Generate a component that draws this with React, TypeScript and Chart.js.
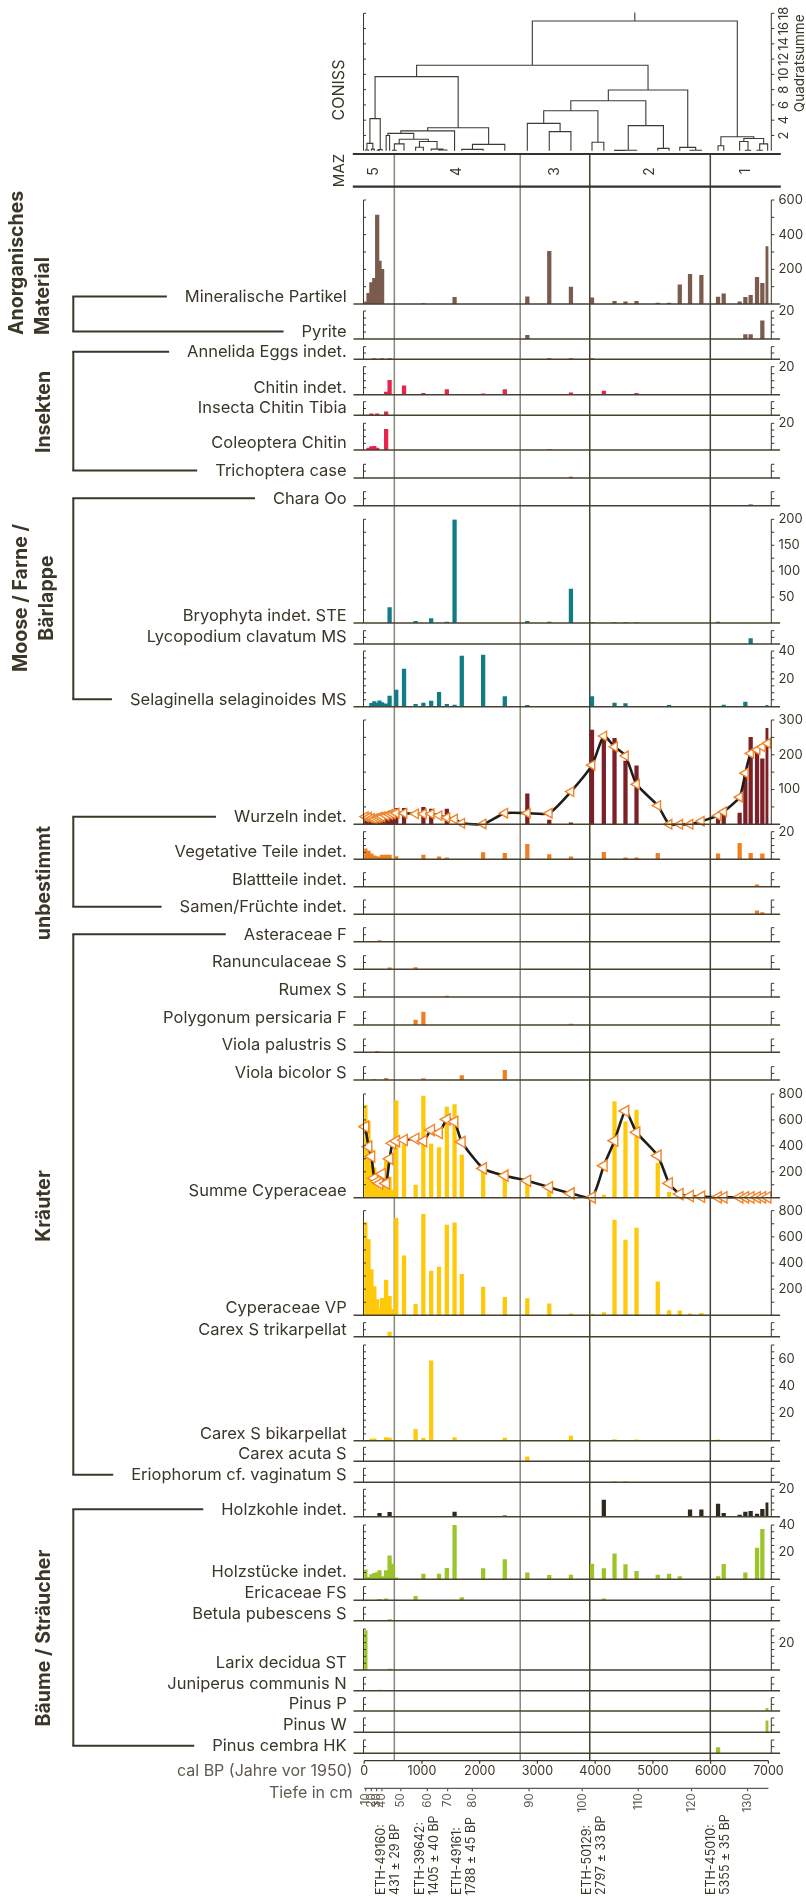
import React, { useEffect, useRef } from 'react';
import { Chart, registerables } from 'chart.js';

Chart.register(...registerables);

// ---------------- data (ages in cal BP) ----------------
const calBpTicks = [0, 1000, 2000, 3000, 4000, 5000, 6000, 7000];
const depthTicks = [10, 20, 30, 40, 50, 60, 70, 80, 90, 100, 110, 120, 130];
const depthTickAges = [26, 123, 215, 307, 634, 1094, 1444, 1873, 2855, 3776, 4747, 5668, 6639];
const zoneBounds = [522, 2702, 3906, 5994];
const zoneNames = ['5', '4', '3', '2', '1'];
const datingCodes = ['ETH-49160:', 'ETH-39642:', 'ETH-49161:', 'ETH-50129:', 'ETH-45010:'];
const datingResults = ['431 ± 29 BP', '1405 ± 40 BP', '1788 ± 45 BP', '2797 ± 33 BP', '5355 ± 35 BP'];
const datingAges = [294, 970, 1614, 3857, 6006];
const conissTicks = [2, 4, 6, 8, 10, 12, 14, 16, 18];
const conissStemTop = 18.1;
// CONISS tree: [height, left, right]; leaves are sample ages
const conissTree: any = [17.0,
  [11.2,
    [9.7,
      [4.2, [0.96, [0.1, 20, 75], [0.2, 125, 175]], [0.15, [0.05, 225, 265], 310]],
      [3.0,
        [2.6,
          [2.27,
            [2.0, 380, 440],
            [1.5, [0.9, [0.05, 490, 555], 690], [1.2, [0.45, 890, 1025], [0.2, 1160, [0.1, 1296, 1431]]]]
          ],
          1565
        ],
        [0.83, [0.17, 1690, 2060], 2435]
      ]
    ],
    [7.95,
      [6.55,
        [5.24, [3.58, 2825, [2.5, 3205, 3580]], [1.1, 3945, 4150]],
        [3.28, [0.05, [0.04, 4335, 4525], 4716], [0.3, 5084, 5280]]
      ],
      [0.44, 5465, [0.05, 5643, 5839]]
    ]
  ],
  [1.83,
    [0.65, 6128, 6226],
    [1.6, [1.2, 6502, [0.05, 6601, 6693]], [0.9, [0.05, 6803, 6895], 6987]]
  ]
];

const mineralischePartikel = [[20, 13], [75, 62], [125, 123], [175, 148], [225, 513], [265, 248], [310, 200], [1025, 2], [1565, 38], [2825, 42], [3205, 304], [3580, 98], [3945, 35], [4335, 15], [4525, 12], [4716, 15], [5084, 6], [5280, 6], [5465, 110], [5643, 171], [5839, 165], [6128, 40], [6226, 58], [6502, 12], [6601, 38], [6693, 50], [6803, 154], [6895, 119], [6987, 331]];
const pyrite = [[2825, 2.6], [6601, 3.1], [6693, 3.1], [6895, 12.9]];
const annelidaEggs = [[175, 0.25], [310, 0.25], [440, 0.25], [3205, 0.2], [3580, 0.2], [3945, 0.2]];
const chitinIndet = [[380, 1.9], [440, 10.2], [690, 6.4], [1025, 1], [1431, 3.6], [2060, 0.7], [2435, 3.6], [3580, 1.4], [4150, 2.6], [4716, 1]];
const insectaChitinTibia = [[125, 0.4], [225, 0.4], [380, 1]];
const coleopteraChitin = [[75, 1.5], [125, 2.5], [175, 2.8], [225, 1.5], [380, 15.5], [3205, 0.3]];
const trichopteraCase = [[3580, 0.3]];
const charaOo = [[6693, 0.4]];
const bryophytaSte = [[440, 29.6], [890, 3.2], [1160, 8.4], [1431, 2], [1565, 199], [2825, 3.2], [3205, 2], [3580, 65.6], [3945, 0.6], [4335, 0.6], [4525, 0.6], [4716, 0.6], [6128, 2]];
const lycopodiumMs = [[6693, 1.6]];
const selaginellaMs = [[125, 2.4], [175, 3.6], [225, 2.4], [265, 4.3], [310, 3], [380, 2], [440, 7.7], [555, 12], [690, 27], [890, 1.7], [1025, 2.6], [1160, 4], [1296, 10.3], [1431, 1.7], [1565, 1.2], [1690, 36.4], [2060, 37], [2435, 7.2], [2825, 1], [3945, 7.2], [4335, 2.6], [4525, 2.2], [5280, 1], [6226, 1.2], [6601, 3.4], [6987, 1]];
const wurzelnBars = [[20, 18], [75, 16], [125, 14], [175, 15], [225, 18], [265, 17], [310, 20], [380, 24], [440, 28], [490, 22], [555, 46], [690, 46], [1025, 49], [1160, 44], [1431, 44], [2825, 88], [3205, 12], [3580, 4], [3945, 271], [4150, 247], [4335, 247], [4525, 182], [4716, 168], [6128, 22], [6226, 32], [6502, 32], [6601, 145], [6693, 250], [6803, 214], [6895, 188], [6987, 276]];
const wurzelnCurve = [[20, 22], [75, 20], [125, 17], [175, 16], [225, 18], [265, 20], [310, 22], [380, 25], [440, 28], [490, 30], [555, 32], [690, 32], [890, 30], [1025, 30], [1160, 30], [1296, 25], [1431, 19], [1565, 15], [1690, 3], [2060, 1], [2435, 32], [2825, 32], [3205, 32], [3580, 94], [3945, 170], [4150, 254], [4335, 223], [4525, 197], [4716, 115], [5084, 54], [5280, 0], [5465, 0], [5643, 0], [5839, 9], [6128, 25], [6226, 36], [6502, 78], [6601, 147], [6693, 204], [6803, 214], [6895, 223], [6987, 233]];
const vegetativeTeile = [[20, 7.5], [75, 6], [125, 4], [175, 2.5], [225, 2], [265, 1.5], [310, 3], [380, 3], [440, 3], [555, 2], [1025, 3.1], [1296, 1.7], [1431, 1], [2060, 4.8], [2435, 4.3], [2825, 10.8], [3205, 3.4], [3580, 1.7], [4150, 5], [4525, 1], [4716, 1], [5084, 4.3], [6128, 3.9], [6502, 11.6], [6693, 4.3], [6895, 3.9]];
const blattteile = [[6803, 0.5]];
const samenFruechte = [[6803, 1], [6895, 0.5]];
const asteraceaeF = [[265, 0.3]];
const ranunculaceaeS = [[440, 0.4], [890, 0.5]];
const rumexS = [[1431, 0.3]];
const polygonumF = [[890, 1.5], [1025, 4], [3580, 0.3]];
const violaPalustrisS = [[225, 0.3]];
const violaBicolorS = [[175, 0.2], [380, 0.5], [1025, 0.4], [1690, 1.3], [2435, 2.9]];
const summeCyperaceae = [[20, 712], [75, 590], [125, 370], [175, 230], [225, 125], [265, 60], [310, 140], [380, 285], [440, 160], [490, 60], [555, 748], [690, 410], [890, 98], [1025, 784], [1160, 414], [1296, 386], [1431, 700], [1565, 718], [1690, 329], [2060, 213], [2435, 149], [2825, 111], [3205, 46], [3580, 21], [3945, 8], [4150, 20], [4335, 741], [4525, 586], [4716, 676], [5084, 265], [5280, 41], [5465, 21], [5643, 13], [5839, 8]];
const summeCyperaceaeCurve = [[20, 548], [75, 394], [125, 318], [175, 150], [225, 125], [265, 110], [310, 183], [380, 110], [440, 300], [490, 420], [555, 437], [690, 445], [890, 455], [1025, 437], [1160, 522], [1296, 500], [1431, 604], [1565, 586], [1690, 430], [2060, 226], [2435, 170], [2825, 130], [3205, 80], [3580, 33], [3945, 3], [4150, 247], [4335, 440], [4525, 669], [4716, 504], [5084, 324], [5280, 111], [5465, 28], [5643, 13], [5839, 8], [6128, 3], [6226, 3], [6502, 3], [6601, 3], [6693, 3], [6803, 3], [6895, 3], [6987, 3]];
const cyperaceaeVp = [[20, 710], [75, 580], [125, 350], [175, 220], [225, 120], [265, 50], [310, 130], [380, 270], [440, 145], [490, 45], [555, 741], [690, 455], [890, 84], [1025, 772], [1160, 338], [1296, 368], [1431, 690], [1565, 708], [1690, 313], [2060, 216], [2435, 137], [2825, 127], [3205, 87], [3580, 12], [3945, 10], [4150, 20], [4335, 729], [4525, 576], [4716, 668], [5084, 256], [5280, 37], [5465, 35], [5643, 12], [5839, 15]];
const carexTrikarpellat = [[440, 1.3]];
const carexBikarpellat = [[125, 1.1], [175, 1.4], [380, 2.3], [440, 2], [890, 8.4], [1025, 1.8], [1160, 58.4], [1565, 2.3], [2435, 2], [3580, 3.4], [4335, 0.9], [4716, 0.7], [6128, 0.7]];
const carexAcutaS = [[2825, 1.3]];
const eriophorumS = [[4335, 0.2], [4525, 0.2]];
const holzkohle = [[265, 2.4], [440, 3.2], [1565, 3.4], [2435, 0.7], [4150, 12.2], [5643, 5.1], [5839, 5.1], [6128, 9.3], [6226, 2.4], [6502, 1.2], [6601, 3.4], [6693, 3.9], [6803, 2], [6895, 5.4], [6987, 10.2]];
const holzstuecke = [[20, 6.9], [75, 1.5], [125, 3.5], [175, 4.4], [225, 5], [265, 6.4], [310, 2], [380, 6.4], [440, 17.2], [490, 11.3], [555, 1], [1025, 3.9], [1296, 3.9], [1431, 8.1], [1565, 40.5], [2060, 7.9], [2435, 14.5], [2825, 4.7], [3205, 2.9], [3580, 3.2], [3945, 11.3], [4150, 7.9], [4335, 18.7], [4525, 10.8], [4716, 5.9], [5084, 3.2], [5280, 3.9], [5465, 2], [6128, 2], [6226, 11], [6601, 4.7], [6803, 23], [6895, 36.8]];
const ericaceaeFs = [[265, 0.3], [380, 0.4], [890, 1.2], [1690, 0.8], [4150, 0.4]];
const betulaS = [[440, 0.3]];
const larixSt = [[20, 28.8], [440, 0.7]];
const juniperusN = [[265, 0.2]];
const pinusP = [[6987, 0.8]];
const pinusW = [[6987, 3.2]];
const pinusCembraHk = [[6128, 1.7]];

// ---------------- styles / layout ----------------
const FONT = 'Inter, "Noto Sans", sans-serif';
const INK = '#3a3628';
const GRAY = '#5e5a4f';
const BROWN = '#7b5b4e';
const RED = '#e5254c';
const TEAL = '#0f7c86';
const DARKRED = '#7d1f27';
const ORANGE = '#f07f22';
const YELLOW = '#ffc90a';
const CHAR = '#2b2a1d';
const GREEN = '#9cc42b';

const X_LEFT = 364.2, X_RIGHT = 768.4;
const AXIS_L = 363.5, AXIS_R = 771.3;
const BASE_L = 353.5, BASE_R = 780.1;
const LABEL_X = 346.7;
const RLABEL_X = 778.4;
const BRACKET_X = 73.3;
const MAZ_TOP = 154, MAZ_BOTTOM = 186.7;
const MAZ_L = 352.8, MAZ_R = 780.8;
const CONISS_TOP = 13.3, CONISS_BOTTOM = 150.7;
const CAL_AXIS_Y = 1760.7, DEPTH_AXIS_Y = 1788.3;

const panels: any[] = [
  { label: 'Mineralische Partikel', data: mineralischePartikel, color: BROWN, max: 600, step: 100, labels: [200, 400, 600] },
  { label: 'Pyrite', data: pyrite, color: BROWN, max: 20, step: 5, labels: [20] },
  { label: 'Annelida Eggs indet.', data: annelidaEggs, color: RED, max: 4, step: 2, labels: [] },
  { label: 'Chitin indet.', data: chitinIndet, color: RED, max: 20, step: 5, labels: [20] },
  { label: 'Insecta Chitin Tibia', data: insectaChitinTibia, color: RED, max: 4, step: 2, labels: [] },
  { label: 'Coleoptera Chitin', data: coleopteraChitin, color: RED, max: 20, step: 5, labels: [20] },
  { label: 'Trichoptera case', data: trichopteraCase, color: RED, max: 4, step: 2, labels: [] },
  { label: 'Chara Oo', data: charaOo, color: '#5fb5bd', max: 4, step: 2, labels: [] },
  { label: 'Bryophyta indet. STE', data: bryophytaSte, color: TEAL, max: 200, step: 25, labels: [50, 100, 150, 200] },
  { label: 'Lycopodium clavatum MS', data: lycopodiumMs, color: TEAL, max: 4, step: 2, labels: [] },
  { label: 'Selaginella selaginoides MS', data: selaginellaMs, color: TEAL, max: 40, step: 5, labels: [20, 40] },
  { label: 'Wurzeln indet.', data: wurzelnBars, color: DARKRED, max: 300, step: 50, labels: [100, 200, 300], curve: wurzelnCurve, r: 5.5 },
  { label: 'Vegetative Teile indet.', data: vegetativeTeile, color: ORANGE, max: 20, step: 5, labels: [20] },
  { label: 'Blattteile indet.', data: blattteile, color: ORANGE, max: 4, step: 2, labels: [] },
  { label: 'Samen/Früchte indet.', data: samenFruechte, color: ORANGE, max: 4, step: 2, labels: [] },
  { label: 'Asteraceae F', data: asteraceaeF, color: ORANGE, max: 4, step: 2, labels: [] },
  { label: 'Ranunculaceae S', data: ranunculaceaeS, color: ORANGE, max: 4, step: 2, labels: [] },
  { label: 'Rumex S', data: rumexS, color: ORANGE, max: 4, step: 2, labels: [] },
  { label: 'Polygonum persicaria F', data: polygonumF, color: ORANGE, max: 4, step: 2, labels: [] },
  { label: 'Viola palustris S', data: violaPalustrisS, color: ORANGE, max: 4, step: 2, labels: [] },
  { label: 'Viola bicolor S', data: violaBicolorS, color: ORANGE, max: 4, step: 2, labels: [] },
  { label: 'Summe Cyperaceae', data: summeCyperaceae, color: YELLOW, max: 800, step: 100, labels: [200, 400, 600, 800], curve: summeCyperaceaeCurve, r: 6.5 },
  { label: 'Cyperaceae VP', data: cyperaceaeVp, color: YELLOW, max: 800, step: 100, labels: [200, 400, 600, 800] },
  { label: 'Carex S trikarpellat', data: carexTrikarpellat, color: YELLOW, max: 4, step: 2, labels: [] },
  { label: 'Carex S bikarpellat', data: carexBikarpellat, color: YELLOW, max: 70, step: 5, labels: [20, 40, 60] },
  { label: 'Carex acuta S', data: carexAcutaS, color: YELLOW, max: 4, step: 2, labels: [] },
  { label: 'Eriophorum cf. vaginatum S', data: eriophorumS, color: YELLOW, max: 4, step: 2, labels: [] },
  { label: 'Holzkohle indet.', data: holzkohle, color: CHAR, max: 20, step: 5, labels: [20] },
  { label: 'Holzstücke indet.', data: holzstuecke, color: GREEN, max: 40, step: 5, labels: [20, 40] },
  { label: 'Ericaceae FS', data: ericaceaeFs, color: GREEN, max: 4, step: 2, labels: [] },
  { label: 'Betula pubescens S', data: betulaS, color: GREEN, max: 4, step: 2, labels: [] },
  { label: 'Larix decidua ST', data: larixSt, color: GREEN, max: 30, step: 5, labels: [20] },
  { label: 'Juniperus communis N', data: juniperusN, color: GREEN, max: 4, step: 2, labels: [] },
  { label: 'Pinus P', data: pinusP, color: GREEN, max: 4, step: 2, labels: [] },
  { label: 'Pinus W', data: pinusW, color: GREEN, max: 4, step: 2, labels: [] },
  { label: 'Pinus cembra HK', data: pinusCembraHk, color: GREEN, max: 4, step: 2, labels: [] },
];

const panelBottom = [304, 339, 359.3, 394.7, 415.3, 450, 478, 505.7, 623, 644, 706.7, 824.3, 859.3, 886.7, 914.3, 941.7, 969.3, 997, 1025, 1052.3, 1080, 1197.7, 1315.3, 1336.7, 1440.7, 1461.3, 1482.3, 1516.7, 1579.3, 1600.3, 1620.7, 1670, 1690.7, 1711, 1732.3, 1753.3];
const panelTop = [200, 311, 346.7, 366.7, 401.7, 423.3, 464.3, 491.7, 519.3, 630.7, 651, 720, 831.7, 872.7, 900, 927.7, 955.7, 983.3, 1011.7, 1039, 1066.7, 1094, 1210.7, 1322.7, 1345, 1447.3, 1468.3, 1489.3, 1525, 1586.7, 1607.3, 1629, 1677.3, 1697.7, 1718, 1740];

const groups: any[] = [
  { lines: ['Anorganisches', 'Material'], from: 0, to: 1, xs: [17.5, 43], y: 335, align: 'left' },
  { lines: ['Insekten'], from: 2, to: 6, xs: [44], y: 412, align: 'center' },
  { lines: ['Moose / Farne /', 'Bärlappe'], from: 7, to: 10, xs: [21, 47], y: 598, align: 'center' },
  { lines: ['unbestimmt'], from: 11, to: 14, xs: [44], y: 883, align: 'center' },
  { lines: ['Kräuter'], from: 15, to: 26, xs: [44], y: 1206, align: 'center' },
  { lines: ['Bäume / Sträucher'], from: 27, to: 35, xs: [44], y: 1638, align: 'center' },
];

function buildDendro(node: any, segs: any[]): { x: number; h: number } {
  if (typeof node === 'number') return { x: node, h: 0 };
  const [h, a, b] = node;
  const L = buildDendro(a, segs);
  const R = buildDendro(b, segs);
  segs.push({ x: L.x, y: L.h }, { x: L.x, y: h }, { x: R.x, y: h }, { x: R.x, y: R.h }, { x: R.x, y: null });
  return { x: (L.x + R.x) / 2, h };
}

function seg(ctx: any, x1: number, y1: number, x2: number, y2: number) {
  ctx.beginPath();
  ctx.moveTo(x1, y1);
  ctx.lineTo(x2, y2);
  ctx.stroke();
}

function rotText(ctx: any, text: string, x: number, y: number, align: string) {
  ctx.save();
  ctx.translate(x, y);
  ctx.rotate(-Math.PI / 2);
  ctx.textAlign = align;
  ctx.textBaseline = 'middle';
  ctx.fillText(text, 0, 0);
  ctx.restore();
}

const overlay = {
  id: 'profileOverlay',
  afterLayout(chart: any) {
    panels.forEach((p, i) => {
      const s = chart.scales['p' + i];
      s.top = panelTop[i];
      s.bottom = panelBottom[i];
      s.height = panelBottom[i] - panelTop[i];
      s.configure();
    });
    const d = chart.scales.yD;
    d.top = CONISS_TOP;
    d.bottom = CONISS_BOTTOM;
    d.height = CONISS_BOTTOM - CONISS_TOP;
    d.configure();
  },
  beforeDatasetsDraw(chart: any) {
    const ctx = chart.ctx;
    const xs = chart.scales.x;
    ctx.save();
    ctx.lineWidth = 1.5;
    zoneBounds.forEach((b, i) => {
      const x = xs.getPixelForValue(b);
      ctx.strokeStyle = i < 2 ? '#8b877a' : '#46422f';
      seg(ctx, x, MAZ_TOP, x, CAL_AXIS_Y);
    });
    ctx.restore();
  },
  afterDatasetsDraw(chart: any) {
    const ctx = chart.ctx;
    const xs = chart.scales.x;
    ctx.save();
    ctx.lineCap = 'butt';

    // ---- panels: baselines, axes, labels ----
    panels.forEach((p, i) => {
      const s = chart.scales['p' + i];
      const yb = s.getPixelForValue(0);
      const yt = s.getPixelForValue(p.max);
      ctx.strokeStyle = '#46422f';
      ctx.lineWidth = 1.6;
      seg(ctx, BASE_L, yb, BASE_R, yb);
      ctx.lineWidth = 1;
      ctx.strokeStyle = INK;
      seg(ctx, AXIS_L, yb, AXIS_L, yt);
      seg(ctx, AXIS_R, yb, AXIS_R, yt);
      for (let v = p.step; v <= p.max + 1e-9; v += p.step) {
        const y = s.getPixelForValue(v);
        seg(ctx, AXIS_L, y, AXIS_L + 2.5, y);
        seg(ctx, AXIS_R, y, AXIS_R + 3, y);
      }
      ctx.fillStyle = INK;
      ctx.font = `13px ${FONT}`;
      ctx.textAlign = 'left';
      ctx.textBaseline = 'middle';
      p.labels.forEach((v: number) => ctx.fillText(String(v), RLABEL_X, s.getPixelForValue(v)));
      ctx.font = `16.5px ${FONT}`;
      ctx.textAlign = 'right';
      ctx.textBaseline = 'alphabetic';
      ctx.fillText(p.label, LABEL_X, yb - 2);
    });

    // ---- group brackets and names ----
    ctx.strokeStyle = INK;
    ctx.lineWidth = 2;
    ctx.font = `16.5px ${FONT}`;
    groups.forEach((g) => {
      const y1 = panelBottom[g.from] - 7.5;
      const y2 = panelBottom[g.to] - 7.5;
      seg(ctx, BRACKET_X, y1, BRACKET_X, y2);
      [g.from, g.to].forEach((idx: number, k: number) => {
        const w = ctx.measureText(panels[idx].label).width;
        const y = k === 0 ? y1 : y2;
        seg(ctx, BRACKET_X - 1, y, LABEL_X - w - 18, y);
      });
    });
    ctx.fillStyle = INK;
    ctx.font = `bold 19.5px ${FONT}`;
    groups.forEach((g) => {
      g.lines.forEach((t: string, k: number) => rotText(ctx, t, g.xs[k], g.y, g.align));
    });

    // ---- CONISS axes ----
    const d = chart.scales.yD;
    ctx.lineWidth = 1;
    ctx.strokeStyle = INK;
    seg(ctx, AXIS_L, d.getPixelForValue(0), AXIS_L, d.getPixelForValue(18));
    seg(ctx, AXIS_R, d.getPixelForValue(0), AXIS_R, d.getPixelForValue(18));
    ctx.font = `13px ${FONT}`;
    ctx.fillStyle = INK;
    conissTicks.forEach((v) => {
      const y = d.getPixelForValue(v);
      seg(ctx, AXIS_L, y, AXIS_L + 2.5, y);
      seg(ctx, AXIS_R, y, AXIS_R + 3, y);
      rotText(ctx, String(v), 784, y, 'center');
    });
    ctx.font = `13.5px ${FONT}`;
    rotText(ctx, 'Quadratsumme', 799.6, 63.3, 'center');
    ctx.font = `16px ${FONT}`;
    rotText(ctx, 'CONISS', 338.7, 90, 'center');

    // ---- MAZ band ----
    ctx.lineWidth = 2.2;
    ctx.strokeStyle = '#35322a';
    seg(ctx, MAZ_L, MAZ_TOP, MAZ_R, MAZ_TOP);
    seg(ctx, MAZ_L, MAZ_BOTTOM, MAZ_R, MAZ_BOTTOM);
    ctx.font = `15px ${FONT}`;
    rotText(ctx, 'MAZ', 339.5, 170.5, 'center');
    const edges = [MAZ_L, ...zoneBounds.map((b) => xs.getPixelForValue(b)), MAZ_R];
    ctx.font = `14px ${FONT}`;
    zoneNames.forEach((n, i) => rotText(ctx, n, (edges[i] + edges[i + 1]) / 2, 171.5, 'center'));

    // ---- cal BP axis ----
    ctx.lineWidth = 1.2;
    ctx.strokeStyle = INK;
    seg(ctx, xs.getPixelForValue(0), CAL_AXIS_Y, xs.getPixelForValue(7000), CAL_AXIS_Y);
    ctx.font = `12.5px ${FONT}`;
    ctx.textAlign = 'center';
    ctx.textBaseline = 'middle';
    calBpTicks.forEach((v) => {
      const x = xs.getPixelForValue(v);
      seg(ctx, x, CAL_AXIS_Y, x, CAL_AXIS_Y + 3);
      ctx.fillText(String(v), x, CAL_AXIS_Y + 10.5);
    });
    ctx.fillStyle = GRAY;
    ctx.font = `16px ${FONT}`;
    ctx.textAlign = 'right';
    ctx.fillText('cal BP (Jahre vor 1950)', 352.7, CAL_AXIS_Y + 10);
    ctx.fillText('Tiefe in cm', 352.7, 1792.7);

    // ---- depth axis ----
    ctx.strokeStyle = GRAY;
    seg(ctx, xs.getPixelForValue(0), DEPTH_AXIS_Y, xs.getPixelForValue(7000), DEPTH_AXIS_Y);
    ctx.font = `11.5px ${FONT}`;
    depthTicks.forEach((dpt, i) => {
      const x = xs.getPixelForValue(depthTickAges[i]);
      seg(ctx, x, DEPTH_AXIS_Y, x, DEPTH_AXIS_Y + 3);
      rotText(ctx, String(dpt), x, DEPTH_AXIS_Y + 5, 'right');
    });

    // ---- radiocarbon dates ----
    ctx.fillStyle = INK;
    ctx.font = `12.5px ${FONT}`;
    datingAges.forEach((a, i) => {
      const x = xs.getPixelForValue(a);
      rotText(ctx, datingCodes[i], x, 1895, 'left');
      rotText(ctx, datingResults[i], x + 14.2, 1895, 'left');
    });
    ctx.restore();
  },
};

export default function App() {
  const ref = useRef<HTMLCanvasElement>(null);
  useEffect(() => {
    const canvas = ref.current;
    if (!canvas) return;
    const scales: any = {
      x: { type: 'linear', axis: 'x', min: 0, max: 7000, display: false, bounds: 'data', offset: false, grid: { offset: false } },
      yD: { type: 'linear', axis: 'y', min: 0, max: 18, display: false, bounds: 'data' },
    };
    const datasets: any[] = [];
    panels.forEach((p, i) => {
      scales['p' + i] = { type: 'linear', axis: 'y', min: 0, max: p.max, display: false, bounds: 'data' };
      datasets.push({
        type: 'bar',
        data: p.data.map(([x, y]: number[]) => ({ x, y })),
        xAxisID: 'x',
        yAxisID: 'p' + i,
        backgroundColor: p.color,
        borderWidth: 0,
        barThickness: 3.6,
        grouped: false,
        order: 2,
      });
      if (p.curve) {
        datasets.push({
          type: 'line',
          data: p.curve.map(([x, y]: number[]) => ({ x, y })),
          xAxisID: 'x',
          yAxisID: 'p' + i,
          borderColor: '#1f1d17',
          borderWidth: 2.6,
          tension: 0.2,
          pointStyle: 'triangle',
          pointRotation: -90,
          pointRadius: p.r,
          pointBorderColor: '#f0862c',
          pointBackgroundColor: '#ffffff',
          pointBorderWidth: 1.4,
          clip: false,
          order: 0,
        });
      }
    });
    const dendroSegs: any[] = [];
    const root = buildDendro(conissTree, dendroSegs);
    dendroSegs.push({ x: root.x, y: root.h }, { x: root.x, y: conissStemTop });
    datasets.push({
      type: 'line',
      data: dendroSegs,
      xAxisID: 'x',
      yAxisID: 'yD',
      borderColor: '#3d3a30',
      borderWidth: 1.1,
      tension: 0,
      pointRadius: 0,
      spanGaps: false,
      clip: false,
      order: 1,
    });

    const chart = new Chart(canvas, {
      type: 'bar',
      data: { datasets },
      options: {
        responsive: false,
        maintainAspectRatio: false,
        animation: false,
        devicePixelRatio: 1,
        layout: { padding: { left: X_LEFT, right: 806 - X_RIGHT, top: 0, bottom: 0 } },
        scales,
        plugins: { legend: { display: false }, tooltip: { enabled: false } },
        events: [],
      } as any,
      plugins: [overlay as any],
    });
    return () => chart.destroy();
  }, []);
  return (
    <div style={{ position: 'absolute', left: 0, top: 0, width: 806, height: 1897, background: '#ffffff' }}>
      <canvas ref={ref} width={806} height={1897} style={{ display: 'block', width: 806, height: 1897 }} />
    </div>
  );
}
